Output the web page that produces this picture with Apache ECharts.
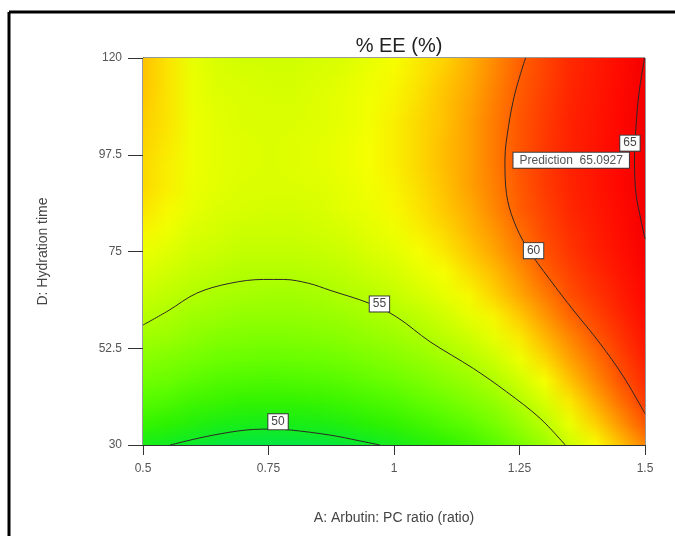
<!DOCTYPE html>
<html>
<head>
<meta charset="utf-8">
<script src="https://cdn.jsdelivr.net/npm/echarts@6/dist/echarts.min.js"></script>
<style>
  html, body { margin: 0; padding: 0; background: #ffffff; }
  #chart { width: 675px; height: 536px; }
</style>
</head>
<body>
<div id="chart"></div>
<script>
// ---------- DATA ----------
const TITLE = '% EE (%)';
const X_NAME = 'A: Arbutin: PC ratio (ratio)';
const Y_NAME = 'D: Hydration time';

const X_TICKS = [0.5, 0.75, 1, 1.25, 1.5];
const Y_TICKS = [30, 52.5, 75, 97.5, 120];

// grid of factor A values (columns) and D values (rows)
const A_VALUES = [0.5,0.55,0.6,0.65,0.7,0.75,0.8,0.85,0.9,0.95,1,1.05,1.1,1.15,1.2,1.25,1.3,1.35,1.4,1.45,1.5];
const D_VALUES = [30,35,40,45,50,55,60,65,70,75,80,85,90,95,100,105,110,115,120];

// %EE estimated at each (D row, A column)
const EE_GRID = [
  [50.3,50.0,49.7,49.4,49.2,49.2,49.2,49.3,49.5,49.8,50.2,50.6,51.0,51.6,52.3,53.4,54.5,55.9,57.0,58.1,59.2],
  [51.3,51.0,50.7,50.4,50.3,50.2,50.3,50.4,50.6,50.9,51.2,51.6,52.1,52.6,53.3,54.3,55.4,56.7,57.8,58.9,60.1],
  [52.3,52.0,51.6,51.4,51.2,51.2,51.2,51.3,51.5,51.8,52.1,52.6,53.0,53.6,54.2,55.2,56.2,57.4,58.5,59.6,60.9],
  [53.1,52.9,52.5,52.2,52.1,52.0,52.1,52.2,52.4,52.7,53.0,53.4,53.9,54.4,55.1,56.0,57.0,58.1,59.1,60.2,61.6],
  [53.9,53.6,53.3,53.0,52.9,52.8,52.9,53.0,53.2,53.5,53.8,54.2,54.7,55.2,55.9,56.8,57.7,58.7,59.6,60.7,62.2],
  [54.6,54.4,54.0,53.7,53.6,53.5,53.6,53.7,53.9,54.2,54.5,54.9,55.4,55.9,56.6,57.4,58.3,59.2,60.1,61.2,62.8],
  [55.3,55.0,54.6,54.4,54.2,54.2,54.2,54.3,54.5,54.8,55.1,55.5,56.0,56.6,57.2,58.0,58.9,59.8,60.7,61.8,63.4],
  [55.8,55.5,55.2,54.9,54.8,54.7,54.7,54.8,55.1,55.3,55.7,56.1,56.6,57.1,57.8,58.6,59.4,60.4,61.2,62.3,63.9],
  [56.3,56.0,55.6,55.4,55.2,55.2,55.2,55.3,55.5,55.8,56.1,56.6,57.0,57.6,58.2,59.0,59.9,60.8,61.7,62.8,64.4],
  [56.7,56.4,56.0,55.8,55.6,55.6,55.6,55.7,55.9,56.2,56.5,57.0,57.4,58.0,58.6,59.4,60.3,61.2,62.1,63.2,64.8],
  [57.2,56.8,56.3,56.1,55.9,55.9,55.9,56.0,56.2,56.5,56.8,57.3,57.7,58.3,58.9,59.7,60.6,61.5,62.4,63.5,65.1],
  [57.5,57.1,56.6,56.3,56.2,56.1,56.1,56.2,56.5,56.7,57.1,57.5,58.0,58.5,59.2,60.0,60.8,61.8,62.6,63.7,65.3],
  [57.7,57.3,56.7,56.5,56.3,56.3,56.3,56.4,56.6,56.9,57.2,57.6,58.1,58.7,59.3,60.1,61.0,61.9,62.8,63.9,65.5],
  [57.7,57.3,56.8,56.5,56.4,56.3,56.4,56.5,56.7,57.0,57.3,57.7,58.2,58.7,59.4,60.2,61.0,62.0,62.8,63.9,65.5],
  [57.8,57.4,56.8,56.5,56.4,56.3,56.4,56.5,56.7,57.0,57.3,57.7,58.2,58.7,59.4,60.2,61.1,62.0,62.9,64.0,65.6],
  [57.9,57.5,56.8,56.5,56.3,56.3,56.3,56.4,56.6,56.9,57.3,57.7,58.1,58.7,59.4,60.2,61.0,62.0,62.8,63.9,65.5],
  [58.0,57.5,56.7,56.4,56.3,56.2,56.2,56.4,56.6,56.9,57.2,57.6,58.1,58.6,59.3,60.1,60.9,61.9,62.7,63.8,65.4],
  [58.1,57.5,56.7,56.3,56.2,56.1,56.1,56.3,56.5,56.8,57.1,57.5,58.0,58.5,59.2,60.0,60.8,61.8,62.6,63.7,65.3],
  [58.1,57.5,56.6,56.2,56.0,56.0,56.0,56.1,56.3,56.6,57.0,57.4,57.8,58.4,59.1,59.9,60.7,61.7,62.5,63.6,65.2]
];

// contour levels and traced contour lines [A, D]
const CONTOUR_LEVELS = [50, 55, 60, 65];
const CONTOUR_50 = [[0.554,30],[0.6,31.3],[0.64,32.3],[0.707,33.5],[0.76,33.7],[0.793,33.5],[0.873,32.3],[0.93,31.0],[0.972,30]];
const CONTOUR_55 = [[0.5,57.9],[0.55,61.2],[0.607,65.3],[0.673,67.6],[0.74,68.5],[0.78,68.5],[0.83,67.6],[0.872,66.0],[0.952,62.9],[1.005,59.8],[1.072,54.0],[1.158,47.8],[1.224,42.4],[1.291,36.2],[1.341,30]];
const CONTOUR_60 = [[1.262,120],[1.241,111.8],[1.228,104],[1.221,96.3],[1.224,88.5],[1.238,82.3],[1.264,76.1],[1.311,68.4],[1.357,61.4],[1.41,53.7],[1.457,45.9],[1.5,37.3]];
const CONTOUR_65 = [[1.499,120],[1.488,111.8],[1.482,104],[1.479,96.3],[1.482,88.5],[1.492,82.3],[1.5,78]];
// where each contour's value label sits [A, D]
const CONTOUR_LABEL_AT = [[0.769,35.4],[0.971,62.8],[1.278,75.2],[1.47,100.2]];

// flagged prediction
const PREDICTION_TEXT = 'Prediction  65.0927';
const PREDICTION_AT = [1.353, 96.2];

// ---------- CHART ----------
const COLOR_SCALE = ['#00e64a','#10ec20','#2cf200','#4cf900','#6cff00','#8cff00','#acff00','#d0ff00','#f6ff00','#ffc800','#ff9000','#ff5c00','#ff3a00','#ff2200','#ff1200','#ff0600','#f80000','#ec0000'];

const nA = A_VALUES.length;
const nD = D_VALUES.length;
const cells = [];
D_VALUES.forEach((d, i) => {
  A_VALUES.forEach((a, j) => { cells.push([a, d, EE_GRID[i][j]]); });
});

// each grid point paints the patch up to its right / upper neighbours, shaded between their mapped colours
function renderPatch(params, api) {
  const idx = params.dataIndexInside;
  const col = idx % nA, row = Math.floor(idx / nA);
  if (col === nA - 1 || row === nD - 1) return;
  const pBL = api.coord([api.value(0), api.value(1)]);
  const pTR = api.coord([api.value(0, idx + 1), api.value(1, idx + nA)]);
  const cBL = api.visual('color', idx);
  const cBR = api.visual('color', idx + 1);
  const cTL = api.visual('color', idx + nA);
  const cTR = api.visual('color', idx + nA + 1);
  const x0 = Math.round(pBL[0]), x1 = Math.round(pTR[0]);
  const yB = Math.round(pBL[1]), yT = Math.round(pTR[1]);
  const H = yB - yT;
  const children = [];
  for (let y = yT; y < yB; y += 2) {
    const h = Math.min(2, yB - y);
    const t = (y + h / 2 - yT) / H;
    const left = echarts.color.lerp(t, [cTL, cBL]);
    const right = echarts.color.lerp(t, [cTR, cBR]);
    children.push({
      type: 'rect', shape: { x: x0, y: y, width: x1 - x0, height: h },
      style: { fill: new echarts.graphic.LinearGradient(0, 0, 1, 0, [{ offset: 0, color: left }, { offset: 1, color: right }]) }
    });
  }
  return { type: 'group', children: children };
}

const FONT = 'Liberation Sans, Arial, sans-serif';
const contourLines = [CONTOUR_50, CONTOUR_55, CONTOUR_60, CONTOUR_65].map(pts => ({
  type: 'line', data: pts, smooth: 0.35, symbol: 'none', silent: true, z: 5,
  lineStyle: { color: '#2e2626', width: 1 }
}));

const labelBox = {
  show: true, position: 'inside', formatter: p => p.data.name, opacity: 1,
  backgroundColor: '#ffffff', borderColor: '#3a3a3a', borderWidth: 1,
  padding: [2, 3, 1, 3], fontSize: 12, color: '#444', fontFamily: FONT
};

const chart = echarts.init(document.getElementById('chart'), null, { renderer: 'canvas' });
chart.setOption({
  animation: false,
  backgroundColor: '#ffffff',
  title: {
    text: TITLE, left: 394, top: 31, textAlign: 'center',
    textStyle: { fontFamily: FONT, fontSize: 20, fontWeight: 'normal', color: '#222' }
  },
  grid: { left: 143, top: 58, right: 30, bottom: 91, show: true, borderColor: '#333', borderWidth: 1, backgroundColor: 'transparent' },
  xAxis: {
    type: 'value', min: 0.5, max: 1.5, interval: 0.25,
    name: X_NAME, nameLocation: 'middle', nameGap: 66,
    nameTextStyle: { fontFamily: FONT, fontSize: 14, color: '#444' },
    axisLine: { show: true, lineStyle: { color: '#333' } },
    axisTick: { show: true, length: 10, lineStyle: { color: '#333' }, customValues: X_TICKS },
    axisLabel: { fontFamily: FONT, fontSize: 12, color: '#555', margin: 18, customValues: X_TICKS },
    splitLine: { show: false }
  },
  yAxis: {
    type: 'value', min: 30, max: 120,
    name: Y_NAME, nameLocation: 'middle', nameGap: 93,
    nameTextStyle: { fontFamily: FONT, fontSize: 14, color: '#444' },
    axisLine: { show: true, lineStyle: { color: '#333' } },
    axisTick: { show: true, length: 15, lineStyle: { color: '#333' }, customValues: Y_TICKS },
    axisLabel: { fontFamily: FONT, fontSize: 12, color: '#555', margin: 21, customValues: Y_TICKS },
    splitLine: { show: false }
  },
  visualMap: {
    type: 'continuous', show: false, dimension: 2, seriesIndex: 0,
    min: 49, max: 66, inRange: { color: COLOR_SCALE }
  },
  graphic: [
    { type: 'line', shape: { x1: 9, y1: 12, x2: 675, y2: 12 }, style: { stroke: '#000', lineWidth: 3 }, silent: true },
    { type: 'line', shape: { x1: 9, y1: 12, x2: 9, y2: 536 }, style: { stroke: '#000', lineWidth: 3 }, silent: true }
  ],
  series: [
    { type: 'custom', renderItem: renderPatch, data: cells, encode: { x: 0, y: 1 }, silent: true, z: 1, clip: true },
    ...contourLines,
    {
      type: 'scatter', z: 10, silent: true, symbolSize: 1,
      itemStyle: { color: 'rgba(0,0,0,0)', opacity: 1 },
      label: labelBox,
      data: CONTOUR_LABEL_AT.map((p, k) => ({ value: p, name: String(CONTOUR_LEVELS[k]) }))
    },
    {
      type: 'scatter', z: 11, silent: true, symbolSize: 1,
      itemStyle: { color: 'rgba(0,0,0,0)', opacity: 1 },
      label: Object.assign({}, labelBox, { padding: [2, 6, 1, 6], color: '#555' }),
      data: [{ value: PREDICTION_AT, name: PREDICTION_TEXT }]
    }
  ]
});
</script>
</body>
</html>
